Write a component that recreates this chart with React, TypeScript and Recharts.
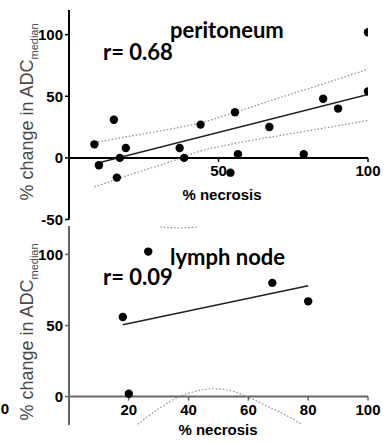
import { ComposedChart, Line, Scatter, XAxis, YAxis, ReferenceLine, ReferenceDot } from "recharts";

// peritoneum panel
const periNecrosis = [8.5, 10, 15, 16, 17, 19, 37, 38.5, 44, 54, 55.5, 56.5, 67, 78.5, 85, 90, 100, 100];
const periChange = [11, -6, 31, -16, 0, 8, 8, 0, 27, -12, 37, 3, 25, 3, 48, 40, 54, 102];
const periFitX = [9, 100];
const periFitY = [-4.5, 51.5];
const periUpperX = [8.5, 20, 32, 44, 55.5, 70, 85, 100];
const periUpperY = [12.4, 17.5, 22.5, 28.5, 37, 48.5, 60, 72];
const periLowerX = [8.5, 20, 34, 44, 55, 72, 86, 100];
const periLowerY = [-23.5, -14, -3, 5.5, 11.5, 18.7, 24.5, 30.3];
const periXTicks = [50, 100];
const periYTicks = [-50, 0, 50, 100];

// lymph node panel
const lymphNecrosis = [18, 20, 26.5, 68, 80];
const lymphChange = [56, 2, 102, 80, 67];
const lymphFitX = [18, 80];
const lymphFitY = [50.5, 78];
const lymphLowerX = [23, 30, 37, 43, 48.5, 54, 59.5, 66, 72, 77.5];
const lymphLowerY = [-19.5, -8.5, 0, 4, 5.5, 4.2, 0, -6.5, -12.5, -19];
const lymphUpperX = [30.5, 37, 43.5];
const lymphUpperY = [119.3, 118.7, 119.3];
const lymphXTicks = [20, 40, 60, 80, 100];
const lymphYTicks = [0, 50, 100];

const zip = (xs: number[], ys: number[]) => xs.map((x, i) => ({ x, y: ys[i] }));

const tickFont = "'Liberation Sans', Arial, sans-serif";
const titleFont = "Lato, 'Open Sans', sans-serif";

function XTick(props: any) {
  const { cx, cy, label, color } = props;
  return (
    <g>
      <line x1={cx} y1={cy} x2={cx} y2={cy + 4} stroke={color} strokeWidth={1.5} />
      <text x={cx} y={cy + 18.5} textAnchor="middle" fontFamily={tickFont} fontWeight="bold" fontSize={15} fill="#000">
        {label}
      </text>
    </g>
  );
}

function Panel(props: any) {
  const { points, fit, upper, lower, domain, yTicks, xTicks, axisColor, height, margin } = props;
  return (
    <ComposedChart width={392} height={height} margin={margin}>
      <XAxis type="number" dataKey="x" domain={[0, 100]} hide allowDataOverflow />
      <YAxis
        type="number"
        dataKey="y"
        domain={domain}
        ticks={yTicks}
        allowDataOverflow
        width={69}
        tickSize={4}
        tickMargin={2}
        axisLine={{ stroke: axisColor, strokeWidth: 2 }}
        tickLine={{ stroke: axisColor, strokeWidth: 1.5 }}
        tick={{ fill: "#000", fontSize: 15, fontWeight: "bold", fontFamily: tickFont }}
      />
      <ReferenceLine y={0} stroke={axisColor} strokeWidth={2} />
      {xTicks.map((t: number) => (
        <ReferenceDot
          key={t}
          x={t}
          y={0}
          shape={(p: any) => <XTick {...p} label={String(t)} color={axisColor} />}
        />
      ))}
      <Line data={upper} dataKey="y" type="monotone" stroke="#8a8a8a" strokeWidth={1.2} strokeDasharray="1.5 2" dot={false} isAnimationActive={false} />
      <Line data={lower} dataKey="y" type="monotone" stroke="#8a8a8a" strokeWidth={1.2} strokeDasharray="1.5 2" dot={false} isAnimationActive={false} />
      <Line data={fit} dataKey="y" type="linear" stroke="#222" strokeWidth={1.5} dot={false} isAnimationActive={false} />
      <Scatter
        data={points}
        fill="#000"
        isAnimationActive={false}
        shape={(p: any) => <circle cx={p.cx} cy={p.cy} r={4.2} fill="#000" />}
      />
    </ComposedChart>
  );
}

function YTitle({ cx, cy }: { cx: number; cy: number }) {
  return (
    <text
      x={cx}
      y={cy}
      transform={`rotate(-90, ${cx}, ${cy})`}
      textAnchor="middle"
      fontFamily={tickFont}
      fontSize={18}
      fill="#4a4a4a"
    >
      % change in ADC
      <tspan fontSize={11} dy={5}>median</tspan>
    </text>
  );
}

export default function App() {
  return (
    <div style={{ position: "absolute", left: 0, top: 0, width: 392, height: 443, background: "#fff" }}>
      <div style={{ position: "absolute", left: 0, top: 0 }}>
        <Panel
          points={zip(periNecrosis, periChange)}
          fit={zip(periFitX, periFitY)}
          upper={zip(periUpperX, periUpperY)}
          lower={zip(periLowerX, periLowerY)}
          domain={[-50, 120]}
          yTicks={periYTicks}
          xTicks={periXTicks}
          axisColor="#000"
          height={228}
          margin={{ top: 10, right: 24, bottom: 8.5, left: 0 }}
        />
      </div>
      <div style={{ position: "absolute", left: 0, top: 216 }}>
        <Panel
          points={zip(lymphNecrosis, lymphChange)}
          fit={zip(lymphFitX, lymphFitY)}
          upper={zip(lymphUpperX, lymphUpperY)}
          lower={zip(lymphLowerX, lymphLowerY)}
          domain={[-20, 120]}
          yTicks={lymphYTicks}
          xTicks={lymphXTicks}
          axisColor="#666"
          height={227}
          margin={{ top: 10, right: 24, bottom: 18, left: 0 }}
        />
      </div>
      <svg width={392} height={443} style={{ position: "absolute", left: 0, top: 0, pointerEvents: "none" }}>
        <YTitle cx={33} cy={112} />
        <YTitle cx={33} cy={332} />
        <text x={170} y={38} fontFamily={titleFont} fontWeight="bold" fontSize={22} fill="#000">peritoneum</text>
        <text x={103} y={60} fontFamily={titleFont} fontWeight="bold" fontSize={22} fill="#000">r= 0.68</text>
        <text x={170} y={265} fontFamily={titleFont} fontWeight="bold" fontSize={22} fill="#000">lymph node</text>
        <text x={103} y={285} fontFamily={titleFont} fontWeight="bold" fontSize={22} fill="#000">r= 0.09</text>
        <text x={222} y={200} textAnchor="middle" fontFamily={tickFont} fontWeight="bold" fontSize={15} fill="#000">% necrosis</text>
        <text x={218} y={435} textAnchor="middle" fontFamily={tickFont} fontWeight="bold" fontSize={15} fill="#000">% necrosis</text>
        <text x={5} y={414} textAnchor="middle" fontFamily={tickFont} fontWeight="bold" fontSize={15} fill="#000">0</text>
      </svg>
    </div>
  );
}
